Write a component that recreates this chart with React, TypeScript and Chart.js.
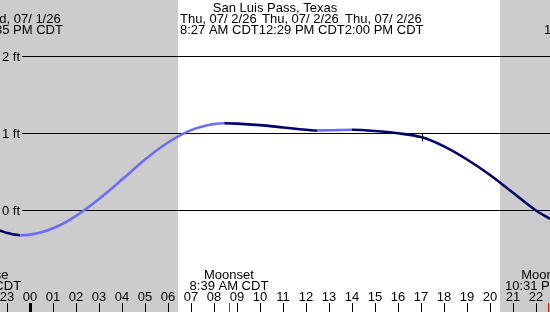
import React, { useEffect, useRef } from 'react';
import { Chart, registerables } from 'chart.js';

Chart.register(...registerables);

// Tide curve (hours from midnight of Thu 07/2/26, height in ft)
const HOURS = [-1.304, -1, -0.42, 0, 0.5, 1, 1.5, 2, 3, 4, 5, 6, 7, 8, 8.45, 9, 10, 11, 12, 12.48, 13, 14, 15, 16, 17, 18, 19, 20, 21, 22, 22.609];
const LEVELS = [-0.26, -0.29, -0.32, -0.312, -0.283, -0.23, -0.16, -0.07, 0.15, 0.40, 0.66, 0.88, 1.04, 1.12, 1.13, 1.125, 1.105, 1.075, 1.045, 1.035, 1.038, 1.045, 1.03, 1.0, 0.95, 0.83, 0.66, 0.46, 0.23, 0.0, -0.11];

const TICK_HOURS = [-1, 0, 1, 2, 3, 4, 5, 6, 7, 8, 9, 10, 11, 12, 13, 14, 15, 16, 17, 18, 19, 20, 21, 22];
const TICK_LABELS = ['23', '00', '01', '02', '03', '04', '05', '06', '07', '08', '09', '10', '11', '12', '13', '14', '15', '16', '17', '18', '19', '20', '21', '22'];

const FT_VALUES = [0, 1, 2];
const FT_LABELS = ['0 ft', '1 ft', '2 ft'];

const NIGHT_STARTS = [-4, 20.43];
const NIGHT_ENDS = [6.43, 30];

const MOON_HOURS = [-2.1, 8.65, 22.52];
const MOON_NAMES = ['Moonrise', 'Moonset', 'Moonrise'];
const MOON_TIMES = ['9:54 PM CDT', '8:39 AM CDT', '10:31 PM CDT'];

const TITLE = 'San Luis Pass, Texas';
const TIDE_DATES = ['Thu, 07/ 2/26', 'Thu, 07/ 2/26', 'Thu, 07/ 2/26'];
const TIDE_TIMES_LINE = '8:27 AM CDT12:29 PM CDT2:00 PM CDT';
const PREV_HOUR = -0.42;
const PREV_DATE = 'Wed, 07/ 1/26';
const PREV_TIME = '11:35 PM CDT';
const NEXT_TIME = '11:41 PM CDT';

const MARK_HOUR = 17.05;
const MARK_LEVEL = 0.95;

const X_MIN = -30 / 23;
const X_MAX = 520 / 23;
const Y_MAX = 2.725;
const Y_MIN = -1.314;

const RISING = '#6b6bff';
const FALLING = '#00006e';
const NIGHT = '#cccccc';
const FONT = '13px "Liberation Sans", Arial, sans-serif';

const backgroundPlugin = {
  id: 'bg',
  beforeDatasetsDraw(chart: any) {
    const { ctx, width, height } = chart;
    const xs = chart.scales.x;
    const ys = chart.scales.y;
    ctx.save();
    ctx.fillStyle = '#ffffff';
    ctx.fillRect(0, 0, width, height);
    ctx.fillStyle = NIGHT;
    for (let i = 0; i < NIGHT_STARTS.length; i++) {
      const a = Math.max(0, Math.round(xs.getPixelForValue(NIGHT_STARTS[i])));
      const b = Math.min(width, Math.round(xs.getPixelForValue(NIGHT_ENDS[i])));
      if (b > a) ctx.fillRect(a, 0, b - a, height);
    }
    ctx.strokeStyle = '#000';
    ctx.lineWidth = 1;
    ctx.fillStyle = '#000';
    ctx.font = FONT;
    ctx.textAlign = 'right';
    ctx.textBaseline = 'middle';
    FT_VALUES.forEach((v, i) => {
      const y = Math.floor(ys.getPixelForValue(v)) + 0.5;
      ctx.beginPath();
      ctx.moveTo(22, y);
      ctx.lineTo(width, y);
      ctx.stroke();
      ctx.fillText(FT_LABELS[i], 20, y + 0.5);
    });
    ctx.restore();
  },
};

const overlayPlugin = {
  id: 'overlay',
  afterDraw(chart: any) {
    const { ctx } = chart;
    const xs = chart.scales.x;
    const ys = chart.scales.y;
    ctx.save();
    ctx.font = FONT;
    ctx.fillStyle = '#000';
    ctx.textBaseline = 'alphabetic';

    // title & tide events
    ctx.textAlign = 'center';
    ctx.fillText(TITLE, 275, 12);
    const px0 = xs.getPixelForValue(PREV_HOUR);
    ctx.fillText(PREV_DATE, px0, 23);
    ctx.fillText(PREV_TIME, px0, 34);
    ctx.textAlign = 'left';
    const dateX = [180, 262, 345];
    TIDE_DATES.forEach((d, i) => ctx.fillText(d, dateX[i], 23));
    ctx.fillText(TIDE_TIMES_LINE, 180, 34);
    ctx.fillText(NEXT_TIME, 544, 34);

    // hour ticks
    ctx.strokeStyle = '#000';
    TICK_HOURS.forEach((h, i) => {
      const px = xs.getPixelForValue(h);
      const x = Math.round(px) + 0.5;
      ctx.lineWidth = TICK_LABELS[i] === '00' ? 3 : 1;
      ctx.beginPath();
      ctx.moveTo(x, 303);
      ctx.lineTo(x, 312);
      ctx.stroke();
      ctx.textAlign = 'center';
      ctx.fillText(TICK_LABELS[i], px, 301);
    });

    // moon events
    ctx.strokeStyle = '#ff0000';
    ctx.lineWidth = 1;
    MOON_HOURS.forEach((h, i) => {
      const px = xs.getPixelForValue(h);
      const x = Math.round(px) + 0.5;
      ctx.beginPath();
      ctx.moveTo(x, 303);
      ctx.lineTo(x, 312);
      ctx.stroke();
      ctx.textAlign = 'center';
      ctx.fillText(MOON_NAMES[i], px, 279);
      ctx.fillText(MOON_TIMES[i], px, 290);
    });

    // current-time mark
    const mx = Math.round(xs.getPixelForValue(MARK_HOUR)) + 0.5;
    const my = Math.round(ys.getPixelForValue(MARK_LEVEL)) + 0.5;
    ctx.strokeStyle = '#000';
    ctx.lineWidth = 1;
    ctx.beginPath();
    ctx.moveTo(mx - 4, my);
    ctx.lineTo(mx + 4, my);
    ctx.moveTo(mx, my - 4);
    ctx.lineTo(mx, my + 4);
    ctx.stroke();
    ctx.restore();
  },
};

export default function App() {
  const ref = useRef<HTMLCanvasElement>(null);
  useEffect(() => {
    const canvas = ref.current;
    if (!canvas) return;
    const chart = new Chart(canvas, {
      type: 'line',
      data: {
        datasets: [
          {
            data: HOURS.map((h, i) => ({ x: h, y: LEVELS[i] })),
            borderWidth: 2.6,
            pointRadius: 0,
            cubicInterpolationMode: 'monotone',
            borderColor: FALLING,
            fill: false,
            segment: {
              borderColor: (c: any) => (c.p1.parsed.y >= c.p0.parsed.y ? RISING : FALLING),
            },
          } as any,
        ],
      },
      options: {
        animation: false,
        responsive: false,
        maintainAspectRatio: false,
        events: [],
        layout: { padding: 0 },
        scales: {
          x: { type: 'linear', display: false, min: X_MIN, max: X_MAX },
          y: { type: 'linear', display: false, min: Y_MIN, max: Y_MAX },
        },
        plugins: { legend: { display: false }, tooltip: { enabled: false } },
      },
      plugins: [backgroundPlugin, overlayPlugin],
    });
    return () => chart.destroy();
  }, []);
  return (
    <div style={{ position: 'fixed', left: 0, top: 0, width: 550, height: 312, background: '#fff' }}>
      <canvas ref={ref} width={550} height={312} style={{ display: 'block' }} />
    </div>
  );
}
